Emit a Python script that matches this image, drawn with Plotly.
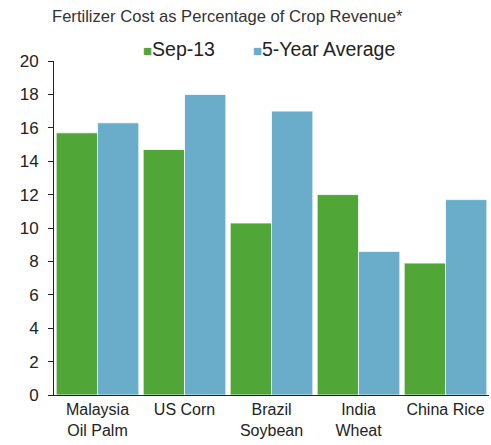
import plotly.graph_objects as go

# Crop categories and the two series (fertilizer cost as % of crop revenue)
categories = ["Malaysia<br>Oil Palm", "US Corn", "Brazil<br>Soybean", "India<br>Wheat", "China Rice"]
series_names = ["Sep-13", "5-Year Average"]
sep13 = [15.7, 14.7, 10.3, 12.0, 7.9]
five_year_avg = [16.3, 18.0, 17.0, 8.6, 11.7]
y_ticks = [0, 2, 4, 6, 8, 10, 12, 14, 16, 18, 20]

GREEN = "#51a638"
BLUE = "#69adcb"
FONT = "Liberation Sans, Arial, Helvetica, sans-serif"

fig = go.Figure()
fig.add_trace(go.Bar(
    name=series_names[0], x=categories, y=sep13,
    marker=dict(color=GREEN, line=dict(color="white", width=0.8)),
))
fig.add_trace(go.Bar(
    name=series_names[1], x=categories, y=five_year_avg,
    marker=dict(color=BLUE, line=dict(color="white", width=0.8)),
))

# compact legend: small coloured square followed closely by the series name
legend_text = (
    f"<span style='color:{GREEN};font-size:15px'>■</span>{series_names[0]}"
    "&nbsp;&nbsp;&nbsp;&nbsp;&nbsp;&nbsp;&nbsp;"
    f"<span style='color:{BLUE};font-size:15px'>■</span>{series_names[1]}"
)

fig.update_layout(
    width=491, height=445,
    margin=dict(l=54, r=2, t=61, b=50, autoexpand=False),
    paper_bgcolor="white", plot_bgcolor="white",
    barmode="group", bargap=0.05, bargroupgap=0,
    font=dict(family=FONT, color="#222222"),
    title=dict(
        text="Fertilizer Cost as Percentage of Crop Revenue*",
        font=dict(size=16.6, color="#333333", family=FONT),
        xref="container", x=52 / 491, xanchor="left",
        yref="container", y=1 - 16 / 445, yanchor="middle",
    ),
    showlegend=False,
    annotations=[dict(
        text=legend_text, showarrow=False,
        xref="paper", x=0.495, xanchor="center",
        yref="paper", y=1 + 12 / 334, yanchor="middle",
        font=dict(size=19.5, color="#222222", family=FONT),
    )],
)

fig.update_yaxes(
    range=[0, 20], tickvals=y_ticks,
    showline=True, linecolor="#222222", linewidth=1,
    ticks="outside", ticklen=5, tickcolor="#222222",
    ticklabelstandoff=6,
    showgrid=False, zeroline=False,
    tickfont=dict(size=17, color="#222222"),
)
fig.update_xaxes(
    showline=True, linecolor="#222222", linewidth=1,
    ticks="", showgrid=False,
    tickfont=dict(size=16, color="#222222"),
)

fig.write_html("out.html")
